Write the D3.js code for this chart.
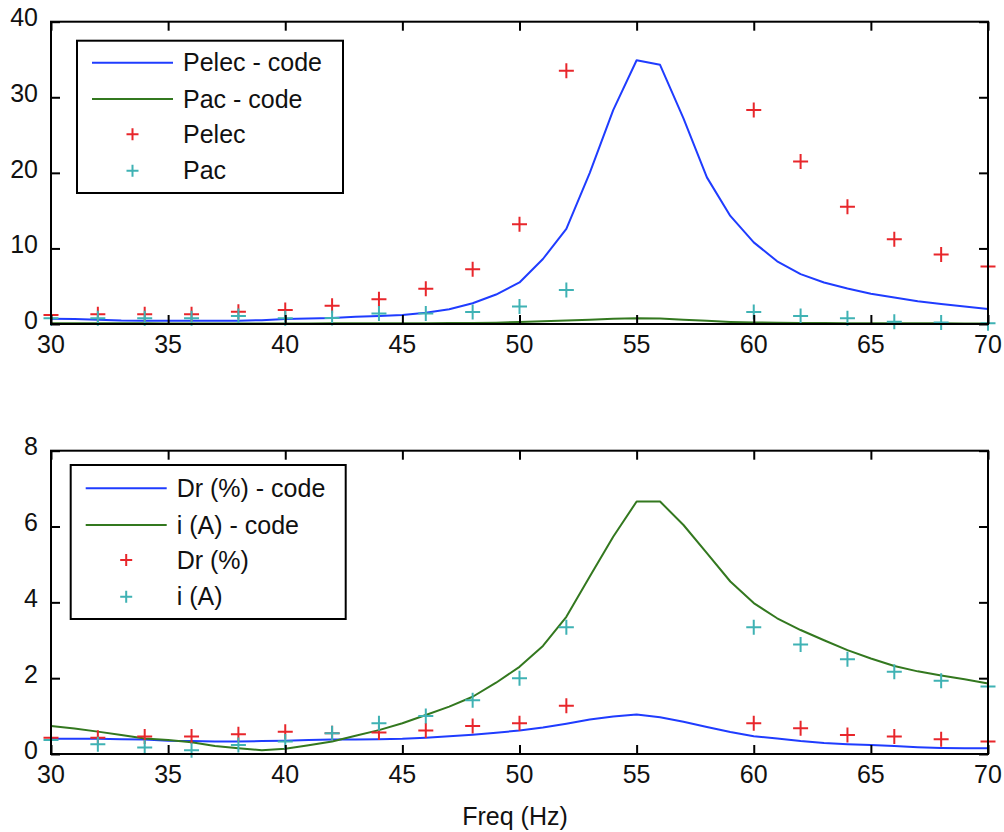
<!DOCTYPE html>
<html>
<head>
<meta charset="utf-8">
<script src="https://cdn.jsdelivr.net/npm/d3@7"></script>
<style>
  html, body { margin: 0; padding: 0; background: #ffffff; }
  svg { display: block; font-family: "Liberation Sans", Arial, Helvetica, sans-serif; }
</style>
</head>
<body>
<svg id="chart" width="1004" height="832"></svg>
<script>
// ---- data ----------------------------------------------------------------
// frequency grid of the computed curves (Hz)
const freqCode = d3.range(30, 71, 1);
// measured frequencies (Hz)
const freqMeas = [30, 32, 34, 36, 38, 40, 42, 44, 46, 48, 50, 52, 60, 62, 64, 66, 68, 70];

// upper panel: powers
const pelecCode = [0.7, 0.65, 0.55, 0.45, 0.42, 0.42, 0.42, 0.42, 0.44, 0.5, 0.65,
                   0.72, 0.8, 0.95, 1.05, 1.2, 1.5, 1.95, 2.75, 3.9, 5.5,
                   8.6, 12.6, 20.0, 28.3, 34.9, 34.3, 27.2, 19.4, 14.3, 10.8,
                   8.3, 6.6, 5.5, 4.7, 4.0, 3.5, 3.0, 2.65, 2.3, 2.0];
const pacCode   = [0.1, 0.1, 0.1, 0.09, 0.09, 0.08, 0.08, 0.08, 0.08, 0.08, 0.08,
                   0.08, 0.09, 0.09, 0.1, 0.1, 0.11, 0.12, 0.14, 0.18, 0.25,
                   0.35, 0.45, 0.55, 0.68, 0.75, 0.72, 0.55, 0.42, 0.28, 0.2,
                   0.16, 0.13, 0.12, 0.11, 0.1, 0.1, 0.09, 0.09, 0.08, 0.08];
const pelecMeas = [1.2, 1.28, 1.28, 1.28, 1.63, 1.85, 2.42, 3.27, 4.67, 7.24, 13.2, 33.5,
                   28.3, 21.5, 15.5, 11.2, 9.2, 7.6];
const pacMeas   = [0.75, 0.75, 0.75, 0.75, 1.05, 0.75, 0.8, 1.4, 1.4, 1.6, 2.3, 4.5,
                   1.6, 1.05, 0.75, 0.3, 0.2, 0.1];

// lower panel: distortion rate and current
const drCode = [0.4, 0.4, 0.4, 0.39, 0.38, 0.35, 0.34, 0.33, 0.33, 0.34, 0.35,
                0.37, 0.38, 0.38, 0.39, 0.4, 0.43, 0.47, 0.51, 0.56, 0.62,
                0.7, 0.8, 0.91, 0.99, 1.04, 0.97, 0.85, 0.71, 0.58, 0.47,
                0.41, 0.34, 0.29, 0.26, 0.24, 0.21, 0.18, 0.16, 0.15, 0.15];
const iCode  = [0.74, 0.67, 0.59, 0.5, 0.41, 0.37, 0.31, 0.21, 0.15, 0.1, 0.14,
                0.23, 0.33, 0.48, 0.63, 0.81, 1.03, 1.25, 1.51, 1.88, 2.3,
                2.85, 3.62, 4.68, 5.73, 6.66, 6.66, 6.04, 5.3, 4.55, 3.98,
                3.58, 3.27, 3.0, 2.74, 2.52, 2.32, 2.18, 2.07, 1.97, 1.86];
const drMeas = [0.43, 0.43, 0.46, 0.46, 0.52, 0.59, 0.55, 0.57, 0.62, 0.74, 0.81, 1.27,
                0.81, 0.68, 0.5, 0.46, 0.39, 0.33];
const iMeas  = [0.37, 0.26, 0.17, 0.1, 0.24, 0.33, 0.55, 0.81, 1.0, 1.42, 2.0, 3.34,
                3.34, 2.89, 2.5, 2.17, 1.93, 1.78];

// axes ticks
const xTicks = [30, 35, 40, 45, 50, 55, 60, 65, 70];
const yTicksTop = [0, 10, 20, 30, 40];
const yTicksBottom = [0, 2, 4, 6, 8];

// legend labels
const legendTop = ["Pelec - code", "Pac - code", "Pelec", "Pac"];
const legendBottom = ["Dr (%) - code", "i (A) - code", "Dr (%)", "i (A)"];

const xLabel = "Freq (Hz)";

// ---- styling -------------------------------------------------------------
const BLUE = "#1f3cff";
const GREEN = "#33781f";
const RED = "#e8262b";
const CYAN = "#3fb2b4";
const FONT = 25;

const svg = d3.select("#chart");

const plusPath = arm => `M${-arm},0H${arm}M0,${-arm}V${arm}`;

function drawPanel(opt) {
  const g = svg.append("g");
  const x = d3.scaleLinear().domain([30, 70]).range([opt.left, opt.right]);
  const y = d3.scaleLinear().domain(opt.yDomain).range([opt.bottom, opt.top]);

  // computed curves
  const line = d3.line().x(d => x(d[0])).y(d => y(d[1]));
  opt.lines.forEach(s => {
    g.append("path")
      .datum(freqCode.map((f, i) => [f, s.values[i]]))
      .attr("d", line)
      .attr("fill", "none")
      .attr("stroke", s.color)
      .attr("stroke-width", 2)
      .attr("stroke-linejoin", "round");
  });

  // measured points as '+' markers
  opt.points.forEach(s => {
    g.append("g").selectAll("path")
      .data(freqMeas.map((f, i) => [f, s.values[i]]))
      .join("path")
      .attr("transform", d => `translate(${x(d[0])},${y(d[1])})`)
      .attr("d", plusPath(7.5))
      .attr("fill", "none")
      .attr("stroke", s.color)
      .attr("stroke-width", 2);
  });

  // axes: inward ticks on all four sides, box frame
  const tickLen = 9;
  const axStyle = sel => {
    sel.select(".domain").remove();
    sel.selectAll(".tick line").attr("stroke", "#000").attr("stroke-width", 2);
    sel.selectAll("text").remove();
  };
  g.append("g").attr("transform", `translate(0,${opt.bottom})`)
    .call(d3.axisBottom(x).tickValues(xTicks).tickSize(-tickLen)).call(axStyle);
  g.append("g").attr("transform", `translate(0,${opt.top})`)
    .call(d3.axisTop(x).tickValues(xTicks).tickSize(-tickLen)).call(axStyle);
  g.append("g").attr("transform", `translate(${opt.left},0)`)
    .call(d3.axisLeft(y).tickValues(opt.yTicks).tickSize(-tickLen)).call(axStyle);
  g.append("g").attr("transform", `translate(${opt.right},0)`)
    .call(d3.axisRight(y).tickValues(opt.yTicks).tickSize(-tickLen)).call(axStyle);

  g.append("rect")
    .attr("x", opt.left).attr("y", opt.top)
    .attr("width", opt.right - opt.left).attr("height", opt.bottom - opt.top)
    .attr("fill", "none").attr("stroke", "#000").attr("stroke-width", 2);

  // tick labels
  g.append("g").selectAll("text").data(xTicks).join("text")
    .attr("x", d => x(d)).attr("y", opt.bottom + 20).attr("dy", "0.35em")
    .attr("text-anchor", "middle").attr("font-size", FONT).attr("fill", "#111")
    .text(d => d);
  g.append("g").selectAll("text").data(opt.yTicks).join("text")
    .attr("x", opt.left - 13).attr("y", d => y(d) - 4).attr("dy", "0.35em")
    .attr("text-anchor", "end").attr("font-size", FONT).attr("fill", "#111")
    .text(d => d);

  // legend
  const L = opt.legend;
  const lg = g.append("g");
  lg.append("rect")
    .attr("x", L.x).attr("y", L.y).attr("width", L.w).attr("height", L.h)
    .attr("fill", "#fff").attr("stroke", "#000").attr("stroke-width", 2);
  const entries = [
    { type: "line", color: opt.lines[0].color },
    { type: "line", color: opt.lines[1].color },
    { type: "plus", color: opt.points[0].color },
    { type: "plus", color: opt.points[1].color }
  ];
  entries.forEach((e, i) => {
    const cy = L.y + L.rows[i];
    if (e.type === "line") {
      lg.append("line")
        .attr("x1", L.x + L.sample[0]).attr("x2", L.x + L.sample[1])
        .attr("y1", cy).attr("y2", cy)
        .attr("stroke", e.color).attr("stroke-width", 2);
    } else {
      lg.append("path")
        .attr("transform", `translate(${L.x + (L.sample[0] + L.sample[1]) / 2},${cy})`)
        .attr("d", plusPath(6)).attr("fill", "none")
        .attr("stroke", e.color).attr("stroke-width", 2);
    }
    lg.append("text")
      .attr("x", L.x + L.text).attr("y", cy).attr("dy", "0.35em")
      .attr("font-size", FONT).attr("fill", "#111")
      .text(opt.labels[i]);
  });
}

drawPanel({
  left: 51, right: 988, top: 21.7, bottom: 324,
  yDomain: [0, 40], yTicks: yTicksTop,
  lines: [{ values: pelecCode, color: BLUE }, { values: pacCode, color: GREEN }],
  points: [{ values: pelecMeas, color: RED }, { values: pacMeas, color: CYAN }],
  labels: legendTop,
  legend: { x: 77, y: 40.7, w: 266, h: 152.3, rows: [22, 58.3, 93.6, 130], sample: [15, 96], text: 106 }
});

drawPanel({
  left: 51, right: 988, top: 450.7, bottom: 754,
  yDomain: [0, 8], yTicks: yTicksBottom,
  lines: [{ values: drCode, color: BLUE }, { values: iCode, color: GREEN }],
  points: [{ values: drMeas, color: RED }, { values: iMeas, color: CYAN }],
  labels: legendBottom,
  legend: { x: 70.7, y: 465, w: 275, h: 154, rows: [23.3, 60, 95, 131.7], sample: [15, 96], text: 106 }
});

// x-axis title
svg.append("text")
  .attr("x", 515).attr("y", 825)
  .attr("text-anchor", "middle").attr("font-size", FONT).attr("fill", "#111")
  .text(xLabel);
</script>
</body>
</html>
